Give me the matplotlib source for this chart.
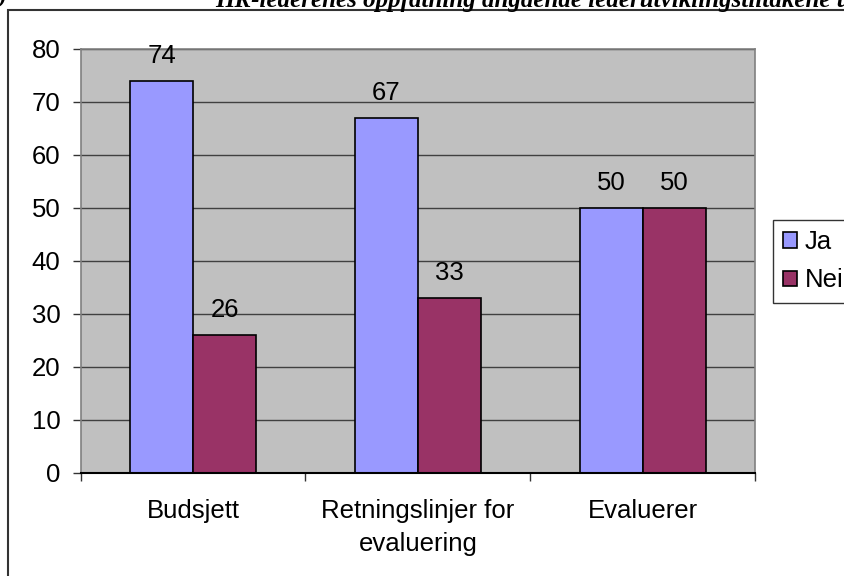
import numpy as np
import matplotlib.pyplot as plt
from matplotlib.patches import Rectangle

# data
kategorier = ["Budsjett", "Retningslinjer for\nevaluering", "Evaluerer"]
ja = [74, 67, 50]
nei = [26, 33, 50]
serier = ["Ja", "Nei"]

plt.rcParams['font.family'] = ['Liberation Sans', 'DejaVu Sans']
fs = 18.5

fig = plt.figure(figsize=(8.44, 5.76), dpi=100)
W, H = 844.0, 576.0

# outer chart frame (cut off on the right and bottom)
frame = Rectangle((8 / W, -0.1), 1.2, 1 - 10 / H + 0.1, transform=fig.transFigure,
                  facecolor='white', edgecolor='#333333', linewidth=1.5, zorder=-10)
fig.patches.append(frame)

# caption, mostly outside the top edge
fig.text(215 / W, 1 - 6.5 / H, "HR-lederenes oppfatning angående lederutviklingstiltakene ulike",
         family='Liberation Serif', fontsize=18, fontweight='bold', style='italic',
         va='baseline', ha='left')
fig.text(6 / W, 1 - 6.5 / H, "Figur 9", family='Liberation Serif', fontsize=18,
         fontweight='bold', style='italic', va='baseline', ha='right')

ax = fig.add_axes([80.7 / W, 1 - 472.7 / H, (755 - 80.7) / W, (472.7 - 49) / H])
ax.set_facecolor('#C0C0C0')

x = np.arange(len(kategorier))
b = 0.28
bars_ja = ax.bar(x - b / 2, ja, b, color='#9999FF', edgecolor='black', linewidth=1.2,
                 label=serier[0], zorder=3)
bars_nei = ax.bar(x + b / 2, nei, b, color='#993366', edgecolor='black', linewidth=1.2,
                  label=serier[1], zorder=3)

for bars in (bars_ja, bars_nei):
    for r in bars:
        ax.annotate(str(int(r.get_height())), (r.get_x() + r.get_width() / 2, r.get_height()),
                    xytext=(0, 13), textcoords='offset points', ha='center', va='baseline',
                    fontsize=fs, zorder=4)

ax.set_xlim(-0.5, 2.5)
ax.set_ylim(0, 80)
ax.set_yticks(np.arange(0, 81, 10))
ax.yaxis.grid(True, color='#404040', linewidth=1)
ax.set_axisbelow(True)

ax.set_xticks(x)
ax.set_xticklabels(kategorier, fontsize=fs, linespacing=1.45)
ax.set_xticks([-0.5, 0.5, 1.5, 2.5], minor=True)
ax.tick_params(axis='x', which='major', length=0, pad=19)
ax.tick_params(axis='x', which='minor', length=6, color='#333333', width=1)
ax.tick_params(axis='y', length=5.5, color='#333333', width=1, pad=9, labelsize=fs)

for s in ('top', 'right', 'left'):
    ax.spines[s].set_color('#808080')
    ax.spines[s].set_linewidth(1.2)
ax.spines['bottom'].set_color('black')
ax.spines['bottom'].set_linewidth(1.5)
ax.spines['bottom'].set_zorder(5)

leg = ax.legend(loc='upper left', bbox_to_anchor=(773 / W, 1 - 220 / H),
                bbox_transform=fig.transFigure, fontsize=fs, frameon=True, fancybox=False,
                handlelength=0.55, handleheight=0.55, handletextpad=0.3, borderpad=0.4,
                labelspacing=0.55, borderaxespad=0)
leg.get_frame().set_edgecolor('black')
leg.get_frame().set_linewidth(1)
for p in leg.get_patches():
    p.set_linewidth(1.2)

fig.savefig("out.png", dpi=100)
